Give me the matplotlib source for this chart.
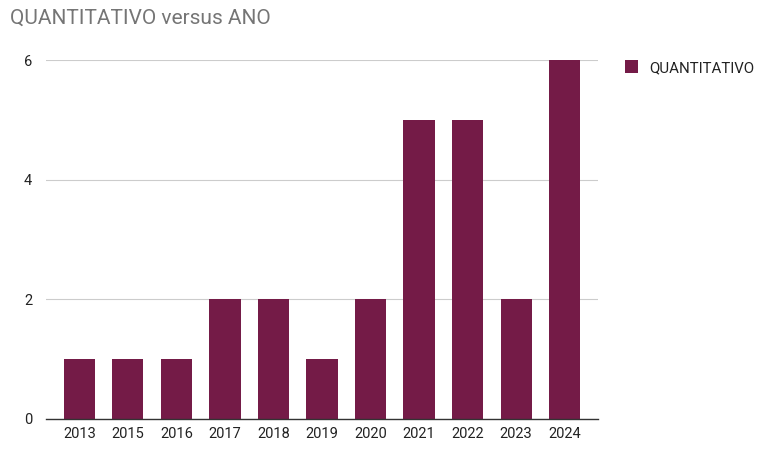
import matplotlib
matplotlib.use('Agg')
import matplotlib.pyplot as plt

# data
anos = ['2013', '2015', '2016', '2017', '2018', '2019', '2020', '2021', '2022', '2023', '2024']
quantitativo = [1, 1, 1, 2, 2, 1, 2, 5, 5, 2, 6]

plt.rcParams['font.family'] = ['Roboto', 'DejaVu Sans']

fig = plt.figure(figsize=(7.6, 4.49), dpi=100)
ax = fig.add_axes([46/760, 30/449, (598-46)/760, (419-60)/449])

bar_color = '#741b47'
ax.bar(range(len(anos)), quantitativo, width=0.64, color=bar_color, zorder=3,
       label='QUANTITATIVO')

ax.set_ylim(0, 6)
ax.set_xlim(-0.69, len(anos) - 1 + 0.69)
ax.set_yticks([0, 2, 4, 6])
ax.set_xticks(range(len(anos)))
ax.set_xticklabels(anos)
ax.tick_params(axis='both', length=0, labelsize=10.5, colors='#222222', pad=6)
ax.tick_params(axis='y', pad=10)

ax.grid(axis='y', color='#cccccc', linewidth=0.8, zorder=0)
for s in ['top', 'right', 'left']:
    ax.spines[s].set_visible(False)
ax.spines['bottom'].set_color('#333333')
ax.spines['bottom'].set_linewidth(1)
ax.spines['bottom'].set_zorder(4)

fig.text(10/760, 1 - 18/449, 'QUANTITATIVO versus ANO', fontsize=15,
         color='#757575', va='center', ha='left')

fig.legend(loc='upper left', bbox_to_anchor=(611/760, 1 - 47/449), frameon=False,
           fontsize=10.8, handlelength=0.9, handleheight=0.9, handletextpad=0.75,
           labelcolor='#222222')

fig.savefig('out.png', dpi=100)
